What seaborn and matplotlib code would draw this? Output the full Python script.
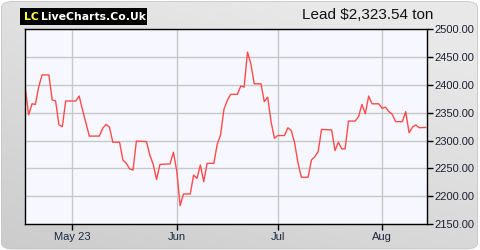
import matplotlib
matplotlib.use("Agg")
import matplotlib.pyplot as plt
from matplotlib.patches import FancyBboxPatch, Rectangle
import numpy as np
import pandas as pd
import seaborn as sns

# ---- data (day offset from 1 May 2023, LME lead price USD/ton) ----
day_offsets = [-14, -13, -12, -11, -10, -9, -7, -6, -5, -4, -3, -2, 1, 2, 3, 4, 5,
               8, 9, 10, 11, 12, 14, 15, 16, 17, 18, 19, 22, 23, 24, 25, 26,
               29, 30, 31, 32, 33, 35, 36, 37, 38, 39, 40, 42, 43, 44,
               45, 46, 47, 49, 50, 51, 52, 53, 54, 56, 57, 58, 59, 60, 61, 63, 64, 65,
               66, 67, 68, 70, 71, 72, 73, 74, 77, 78, 79, 80, 81, 82, 84, 85,
               86, 87, 88, 89, 91, 92, 93, 94, 95, 96, 98, 99, 100, 101, 102, 103, 105]
prices = [2394, 2346, 2366, 2365, 2397, 2418, 2418, 2373, 2371, 2328, 2325, 2371, 2371, 2380, 2355, 2332, 2308,
          2308, 2322, 2329, 2324, 2297, 2297, 2265, 2259, 2249, 2247, 2299, 2298, 2274, 2257, 2230, 2257,
          2258, 2279, 2245, 2183, 2204, 2204, 2238, 2232, 2256, 2226, 2259, 2259, 2293, 2310,
          2356, 2372, 2383, 2383, 2398, 2396, 2459, 2438, 2402, 2402, 2370, 2378, 2334, 2304, 2309, 2309, 2323, 2318,
          2296, 2260, 2234, 2234, 2265, 2271, 2280, 2320, 2319, 2282, 2297, 2285, 2285, 2335, 2335, 2343,
          2365, 2348, 2380, 2366, 2366, 2358, 2360, 2352, 2347, 2334, 2334, 2352, 2314, 2324, 2328, 2323, 2323.54]
tick_dates = ["2023-05-01", "2023-06-01", "2023-07-01", "2023-08-01"]
tick_labels = ["May 23", "Jun", "Jul", "Aug"]
y_ticks = [2150, 2200, 2250, 2300, 2350, 2400, 2450, 2500]
title = "Lead $2,323.54 ton"

base = pd.Timestamp("2023-05-01")
df = pd.DataFrame({
    "date": [base + pd.Timedelta(days=d) for d in day_offsets],
    "price": prices,
})

sns.set_style("white")
plt.rcParams["font.family"] = ["Liberation Sans", "DejaVu Sans"]

fig = plt.figure(figsize=(4.8, 2.5), dpi=100)
fig.patch.set_facecolor("white")

# background panel: rounded, soft gradient (darker toward bottom-left)
bg = fig.add_axes([0, 0, 1, 1])
bg.set_zorder(-10)
bg.axis("off")
bg.set_xlim(0, 1)
bg.set_ylim(0, 1)
gx, gy = np.meshgrid(np.linspace(0, 1, 200), np.linspace(0, 1, 100))
grad = 0.80 + 0.11 * np.clip(0.45 * gx + 0.75 * gy, 0, 1)
img = bg.imshow(np.dstack([grad, grad, grad]), extent=(0, 1, 0, 1), origin="lower",
                aspect="auto", interpolation="bilinear")
panel = FancyBboxPatch((0.003, 0.004), 0.992, 0.99, boxstyle="round,pad=0,rounding_size=0.025",
                       transform=bg.transAxes, facecolor="none", edgecolor="#c4c4c4", linewidth=0.6)
bg.add_patch(panel)
img.set_clip_path(panel)

ax = fig.add_axes([0.0527, 0.104, 0.836, 0.779])
ax.set_zorder(1)
ax.set_facecolor("#f7f8ff")

sns.lineplot(data=df, x="date", y="price", ax=ax, color="#ff4a4a", linewidth=1.0,
             estimator=None, sort=True)

ax.set_xlim(base + pd.Timedelta(days=-14), base + pd.Timedelta(days=105.2))
ax.set_ylim(2150, 2500)

ax.set_xticks([pd.Timestamp(t) for t in tick_dates])
ax.set_xticklabels(tick_labels)
ax.set_yticks(y_ticks)
ax.set_yticklabels([f"{v:.2f}" for v in y_ticks])
ax.yaxis.tick_right()
ax.set_xlabel("")
ax.set_ylabel("")

ax.grid(True, color="#c8c8c8", linewidth=1.0)
ax.set_axisbelow(True)
for s in ax.spines.values():
    s.set_color("black")
    s.set_linewidth(1.0)
ax.tick_params(axis="x", direction="out", length=4, width=1, color="black",
               labelsize=8, labelcolor="#1c2840", pad=2, bottom=True)
ax.tick_params(axis="y", direction="out", length=4, width=1, color="black",
               labelsize=8, labelcolor="#1c2030", pad=2, right=True, left=False)

# title on the right
fig.text(433 / 480, 1 - 15 / 250, title, ha="right", va="center", fontsize=11, color="#111111")

# logo box
fig.patches.append(Rectangle((20 / 480, 1 - 24.5 / 250), 127 / 480, 16.5 / 250,
                             transform=fig.transFigure, facecolor="black", edgecolor="none", zorder=2))
fig.text(24 / 480, 1 - 16.5 / 250, "LC", ha="left", va="center", fontsize=7.8, fontweight="bold",
         color="#ffff33", family="DejaVu Sans", zorder=3)
fig.text(40.5 / 480, 1 - 16.5 / 250, "LiveCharts.Co.Uk", ha="left", va="center", fontsize=7.8,
         fontweight="bold", color="white", family="DejaVu Sans", zorder=3)

fig.savefig("out.png", dpi=100, facecolor=fig.get_facecolor())
